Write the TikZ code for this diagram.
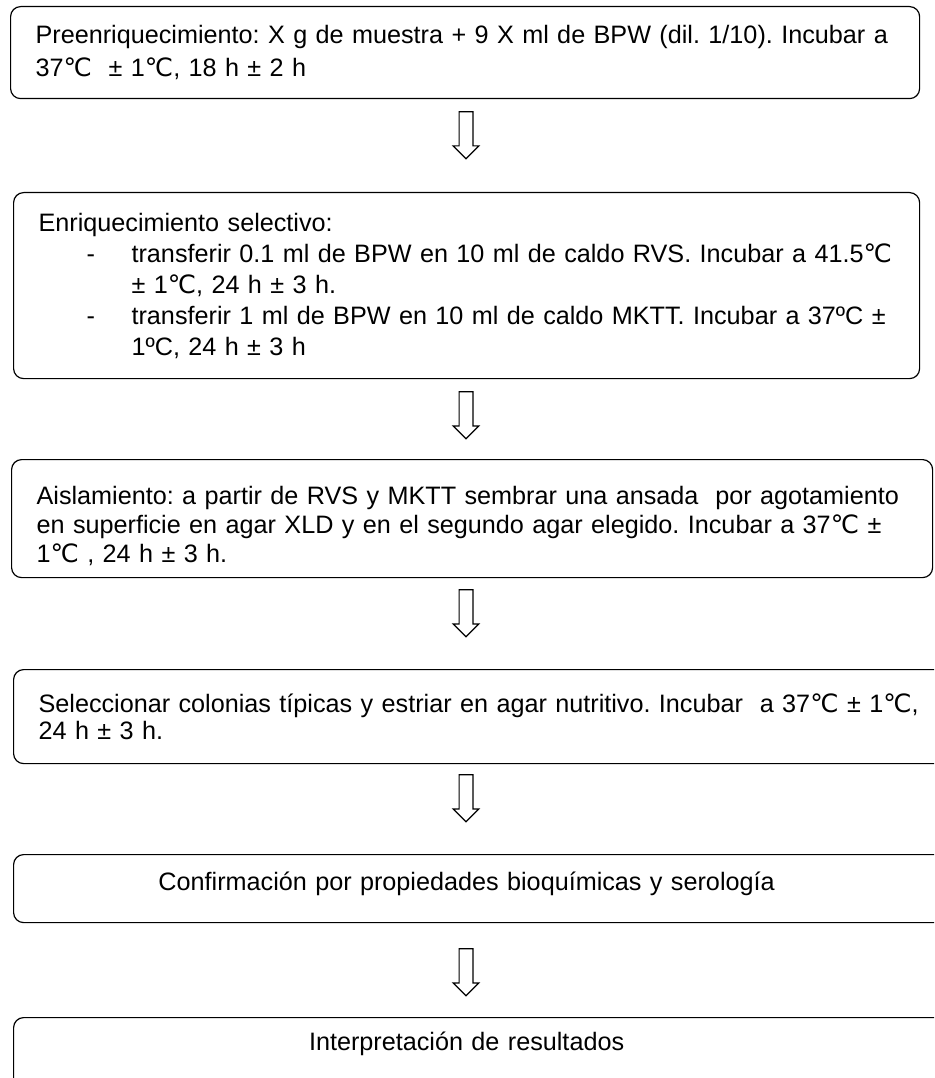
\documentclass[tikz,border=0pt]{standalone}
\usepackage{fontspec}
\setmainfont{Liberation Sans}
\newfontfamily\simbolos{DejaVu Sans}
\newcommand{\gradC}{{\simbolos\char"2103}}
\usetikzlibrary{positioning,shapes.arrows}
\frenchspacing

\tikzset{
  paso/.style = {draw, line width = 1.2pt, rounded corners = 10pt, anchor = north west,
    align = left, inner xsep = 25pt, inner ysep = 0pt, font = \fontsize{25.2}{27}\selectfont},
  flecha/.style = {single arrow, draw, line width = 1.2pt, shape border rotate = 270,
    minimum height = 47pt, minimum width = 0pt, single arrow head extend = 6pt,
    inner sep = 6.3pt, anchor = tail}
}

\begin{document}
\begin{tikzpicture}[x = 1pt, y = -1pt]
  \useasboundingbox (0, 0) rectangle (934, 1078);
  \clip (0, 0) rectangle (934, 1078);
  \def\sangria{\hspace*{48pt}\makebox[45pt][l]{-}}
  \def\sigue{\hspace*{93pt}}
  \coordinate (eje) at (466, 0);

  \node[paso, text width = 859pt, minimum height = 92pt] (preenr) at (10, 6)
    {Preenriquecimiento: X g de muestra + 9 X ml de BPW (dil. 1/10). Incubar a\\[6pt]
     37\gradC\ \ ± 1\gradC, 18 h ± 2 h};
  \node[paso, text width = 856pt, minimum height = 186pt,
        font = \fontsize{25.2}{31}\selectfont] (enriq) at (13, 192)
    {Enriquecimiento selectivo:\\
     \sangria transferir 0.1 ml de BPW en 10 ml de caldo RVS. Incubar a 41.5\gradC\\
     \sigue ± 1\gradC, 24 h ± 3 h.\\
     \sangria transferir 1 ml de BPW en 10 ml de caldo MKTT. Incubar a 37ºC ±\\
     \sigue 1ºC, 24 h ± 3 h};
  \node[paso, text width = 871pt, text height = 45pt, text depth = 73pt,
        font = \fontsize{25.2}{29}\selectfont] (aisla) at (11, 459)
    {Aislamiento: a partir de RVS y MKTT sembrar una ansada \ por agotamiento\\
     en superficie en agar XLD y en el segundo agar elegido. Incubar a 37\gradC\ ±\\
     1\gradC\ , 24 h ± 3 h.};
  \node[paso, text width = 890pt, minimum height = 94pt] (selec) at (13, 669)
    {Seleccionar colonias típicas y estriar en agar nutritivo. Incubar \ a 37\gradC\ ± 1\gradC,\\
     24 h ± 3 h.};
  \node[paso, text width = 890pt, text height = 36pt, text depth = 32pt] (confir) at (13, 854)
    {\makebox[856pt]{Confirmación por propiedades bioquímicas y serología}};
  \node[paso, text width = 890pt, text height = 33pt, text depth = 50pt] (interp) at (13, 1017)
    {\makebox[856pt]{Interpretación de resultados}};

  \foreach \desde/\hueco in {preenr/12, enriq/12, aisla/11, selec/10, confir/25}
    \node[flecha] (f-\desde) at ([yshift = -\hueco pt]\desde.south -| eje) {};
\end{tikzpicture}
\end{document}
